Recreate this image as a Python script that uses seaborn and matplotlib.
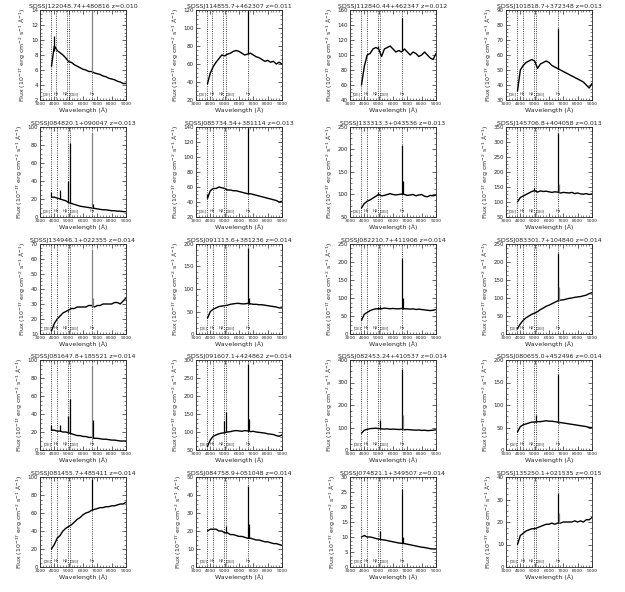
import numpy as np
import matplotlib
matplotlib.use("Agg")
import matplotlib.pyplot as plt
from matplotlib.ticker import MultipleLocator, AutoMinorLocator
import seaborn as sns

sns.set_style("ticks")
plt.rcParams['font.family'] = ['DejaVu Sans']

# observed-frame wavelength grid of the sampled continuum (A)
wave = [3800, 4000, 4200, 4400, 4600, 4800, 5000, 5200, 5400, 5600, 5800, 6000, 6200, 6400,
        6600, 6800, 7000, 7200, 7400, 7600, 7800, 8000, 8200, 8400, 8600, 8800, 9000]

names = ["SDSSJ122048.74+480816", "SDSSJ114855.7+462307", "SDSSJ112840.44+462347", "SDSSJ101818.7+372348",
         "SDSSJ084820.1+090047", "SDSSJ085734.54+381114", "SDSSJ133313.3+043536", "SDSSJ145706.8+404058",
         "SDSSJ134946.1+022355", "SDSSJ091113.6+381236", "SDSSJ082210.7+411906", "SDSSJ083301.7+104840",
         "SDSSJ081647.8+185521", "SDSSJ091607.1+424862", "SDSSJ082453.24+410537", "SDSSJ080655.0+452496",
         "SDSSJ081455.7+485411", "SDSSJ084758.9+051048", "SDSSJ074821.1+349507", "SDSSJ135250.1+021535"]
redshift = [0.010, 0.011, 0.012, 0.013, 0.013, 0.013, 0.013, 0.013, 0.014, 0.014,
            0.014, 0.014, 0.014, 0.014, 0.014, 0.014, 0.014, 0.014, 0.014, 0.015]

ylims = [(2, 14), (20, 120), (40, 160), (30, 90),
         (0, 100), (20, 140), (50, 250), (50, 350),
         (10, 70), (0, 200), (0, 250), (0, 250),
         (0, 100), (50, 300), (0, 400), (0, 200),
         (0, 100), (0, 50), (0, 30), (0, 40)]
ysteps = [2, 20, 20, 10, 20, 20, 50, 50, 10, 50, 50, 50, 20, 50, 100, 50, 20, 10, 5, 10]

flux = [
    [6.5, 9.2, 8.6, 8.3, 8.0, 7.6, 7.1, 7.0, 6.7, 6.5, 6.3, 6.1, 6.0, 5.8, 5.8, 5.6, 5.5, 5.4, 5.2, 5.1, 4.9, 4.8, 4.7, 4.5, 4.4, 4.2, 4.2],
    [38, 50, 57, 62, 66, 70, 69, 71, 72, 74, 75, 74, 72, 70, 71, 72, 70, 68, 67, 65, 63, 64, 62, 63, 60, 62, 60],
    [60, 85, 100, 102, 108, 110, 108, 98, 108, 110, 112, 108, 104, 106, 104, 108, 104, 100, 104, 102, 98, 100, 104, 100, 96, 94, 102],
    [36, 50, 53, 55, 56, 57, 56, 51, 54, 55, 56, 55, 53, 52, 51, 50, 49, 48, 47, 46, 45, 44, 43, 42, 40, 38, 41],
    [22, 22, 21, 20, 19, 18, 16, 15, 14, 13, 12, 11.5, 11, 10.5, 10, 9.5, 9, 8.5, 8, 8, 7.5, 7, 7, 6.5, 6.5, 6, 6],
    [45, 55, 58, 58, 60, 59, 58, 56, 56, 55, 55, 54, 53, 52, 51, 51, 50, 49, 48, 47, 46, 45, 44, 43, 42, 40, 41],
    [70, 80, 85, 88, 92, 96, 100, 97, 98, 100, 102, 100, 99, 100, 101, 100, 98, 99, 100, 97, 99, 100, 96, 95, 98, 97, 99],
    [100, 115, 120, 125, 130, 135, 138, 133, 137, 135, 136, 134, 132, 134, 133, 130, 132, 131, 130, 132, 128, 130, 127, 126, 128, 125, 127],
    [12, 17, 20, 22, 24, 25, 26, 27, 27, 28, 28, 28, 28, 29, 29, 28, 29, 29, 30, 30, 30, 30, 31, 31, 30, 32, 34],
    [35, 50, 55, 58, 61, 62, 63, 64, 66, 67, 68, 68, 67, 67, 68, 67, 66, 66, 65, 65, 64, 63, 62, 61, 60, 58, 58],
    [38, 55, 60, 65, 68, 70, 70, 70, 72, 71, 70, 71, 70, 70, 71, 70, 70, 69, 70, 68, 69, 68, 67, 66, 65, 66, 68],
    [15, 28, 38, 45, 50, 55, 58, 62, 68, 72, 77, 80, 84, 88, 92, 94, 95, 97, 99, 100, 102, 103, 104, 106, 108, 112, 115],
    [22, 22, 21, 21, 20, 20, 19, 18, 17, 16, 16, 15, 15, 14, 14, 13, 13, 12.5, 12, 12, 11.5, 11, 11, 10.5, 10, 10, 10],
    [60, 78, 88, 92, 95, 97, 98, 100, 101, 103, 104, 103, 102, 104, 103, 101, 102, 100, 99, 98, 97, 95, 94, 93, 90, 88, 92],
    [75, 88, 92, 95, 96, 97, 95, 94, 93, 94, 92, 93, 92, 91, 92, 90, 91, 90, 89, 88, 89, 87, 88, 86, 87, 88, 90],
    [40, 52, 56, 58, 60, 62, 62, 63, 63, 64, 65, 64, 64, 63, 62, 61, 60, 59, 58, 57, 56, 55, 54, 53, 52, 50, 50],
    [20, 25, 32, 35, 40, 43, 45, 47, 50, 53, 55, 58, 60, 61, 63, 64, 65, 66, 66, 67, 67, 68, 68, 69, 70, 70, 72],
    [20, 21, 21, 21, 20, 20, 19, 19, 18, 18, 17.5, 17, 17, 16.5, 16, 16, 15.5, 15, 15, 14.5, 14, 14, 13.5, 13, 13, 12.5, 12],
    [10, 10.5, 10, 10, 9.8, 9.5, 9.3, 9.1, 9.0, 8.8, 8.6, 8.4, 8.2, 8.0, 7.9, 7.8, 7.6, 7.4, 7.2, 7.0, 6.8, 6.6, 6.5, 6.3, 6.1, 6.0, 6.0],
    [10, 14, 15, 16, 16.5, 17, 17, 17.5, 18, 18.5, 19, 19, 19.5, 19, 19.5, 19.5, 20, 20, 20, 20, 20.5, 20, 20.5, 20, 21, 21, 22],
]

# emission-line spikes: (observed wavelength, peak flux)
spikes = [
    [(3950, 10.5), (6628, 14.0)],
    [(6635, 120)],
    [(4920, 112), (6642, 150)],
    [(6648, 78)],
    [(3775, 28), (4400, 30), (4925, 40), (5072, 82), (6648, 93), (6670, 15)],
    [(3775, 50), (6648, 138)],
    [(4925, 105), (6648, 210), (6670, 130)],
    [(4925, 148), (6648, 330), (6670, 160)],
    [(4930, 25), (5077, 27), (6655, 66), (6676, 34)],
    [(5077, 65), (6655, 190), (6676, 80)],
    [(4930, 75), (5077, 78), (6655, 210), (6676, 100)],
    [(6655, 225), (6676, 130)],
    [(3780, 28), (4400, 28), (4930, 38), (5077, 57), (6655, 93), (6676, 33)],
    [(4930, 130), (5077, 155), (6655, 290), (6676, 135)],
    [(5077, 135), (6655, 360), (6676, 155)],
    [(5077, 78), (6655, 170), (6676, 58)],
    [(6655, 98)],
    [(5077, 23), (6655, 45), (6676, 24)],
    [(5077, 12), (6655, 26), (6676, 10)],
    [(6662, 33), (6684, 24)],
]
gray_spikes = {0: [6628], 4: [6648], 7: [6670], 8: [6655, 6676], 11: [6676], 12: [6655], 14: [6676],
               15: [6676], 19: [6684]}

line_rest = [3727, 4102, 4861, 5007, 6563]
line_names = ["[OII]", "Hδ", "Hβ", "[OIII]", "Hα"]
line_ha = ['right', 'center', 'right', 'left', 'center']

fig = plt.figure(figsize=(6.25, 5.92), dpi=100)
W, H = 625, 592
col_left = [40, 196, 350, 506]
row_top = [10, 127, 244, 360, 477]
aw, ah = 86, 90

for i in range(20):
    r, c = divmod(i, 4)
    ax = fig.add_axes([col_left[c] / W, 1 - (row_top[r] + ah) / H, aw / W, ah / H])
    y0, y1 = ylims[i]
    z = redshift[i]
    for lw_rest, lab, ha in zip(line_rest, line_names, line_ha):
        xl = lw_rest * (1 + z)
        ax.axvline(xl, color='k', ls=':', lw=0.6)
        ax.text(xl, y0 + 0.04 * (y1 - y0), lab, fontsize=2.6, ha=ha, va='bottom')
    sns.lineplot(x=wave, y=flux[i], ax=ax, color='k', lw=1.0)
    for wl, peak in spikes[i]:
        base = np.interp(wl, wave, flux[i])
        col = '0.5' if wl in gray_spikes.get(i, []) else 'k'
        ax.vlines(wl, base, peak, color=col, lw=0.9)
    ax.set_xlim(3000, 9000)
    ax.set_ylim(y0, y1)
    ax.xaxis.set_major_locator(MultipleLocator(1000))
    ax.xaxis.set_minor_locator(MultipleLocator(200))
    ax.yaxis.set_major_locator(MultipleLocator(ysteps[i]))
    ax.yaxis.set_minor_locator(AutoMinorLocator(4))
    ax.tick_params(which='both', direction='in', top=True, right=True, pad=1.5)
    ax.tick_params(axis='x', labelsize=3.2)
    ax.tick_params(axis='y', labelsize=4)
    ax.tick_params(which='major', length=3, width=0.5)
    ax.tick_params(which='minor', length=1.5, width=0.4)
    for s in ax.spines.values():
        s.set_linewidth(0.6)
    ax.set_title(f"{names[i]} z={z:.3f}", fontsize=4.5, pad=1.5)
    ax.set_xlabel("Wavelength (Å)", fontsize=4.5, labelpad=1)
    ax.set_ylabel("Flux (10$^{-17}$ erg cm$^{-2}$ s$^{-1}$ Å$^{-1}$)", fontsize=4.5, labelpad=2)

fig.savefig("out.png", dpi=100)
